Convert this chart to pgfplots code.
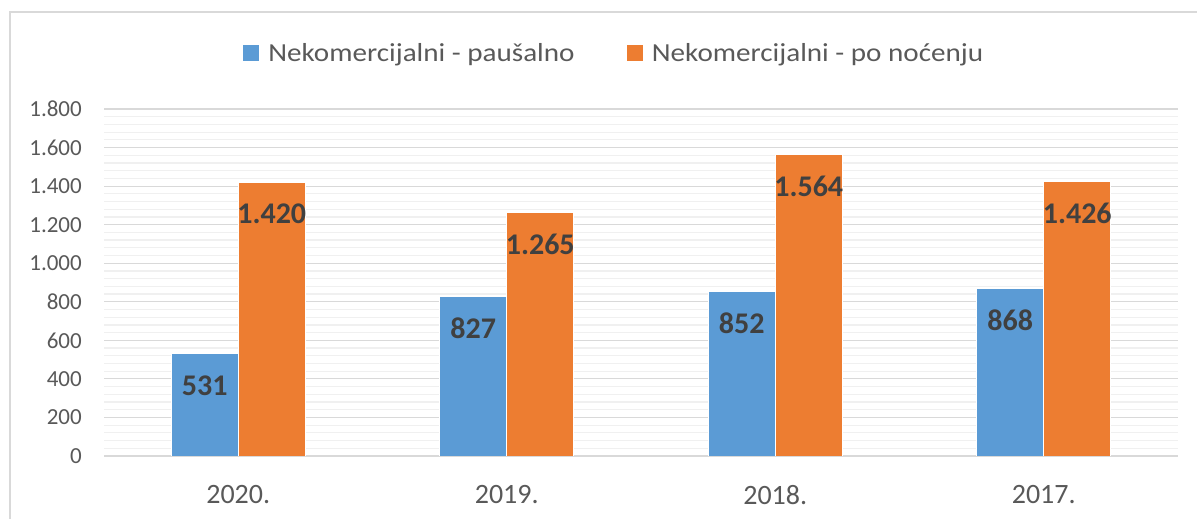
\documentclass[border=0pt]{standalone}
\usepackage{fontspec}
\setmainfont{Carlito}
\newfontfamily\legfont{Carlito}[FakeStretch=1.12]
\usepackage{pgfplots}
\pgfplotsset{compat=1.18}
\definecolor{cblue}{HTML}{5B9BD5}
\definecolor{corange}{HTML}{ED7D31}
\definecolor{gridmaj}{HTML}{D9D9D9}
\definecolor{gridmin}{HTML}{F0F0F0}
\definecolor{ticktext}{HTML}{595959}
\definecolor{labtext}{HTML}{404040}
\begin{document}
\begin{tikzpicture}[x=1pt,y=1pt]
\useasboundingbox (0,0) rectangle (1197,519);
\draw[color=gridmaj, line width=1.5pt] (10,0) -- (10,507) -- (1197,507);
\begin{axis}[
  at={(104pt,63pt)}, anchor=south west,
  scale only axis, width=1074pt, height=347pt,
  xmin=-0.5, xmax=3.5, ymin=0, ymax=1800,
  ybar=0pt, bar width=67pt,
  xtick={0,1,2,3}, xticklabels={2020.,2019.,2018.,2017.},
  ytick={0,200,...,1800},
  minor y tick num=4,
  ymajorgrids, yminorgrids,
  major grid style={draw=gridmaj, line width=1.2pt},
  minor grid style={draw=gridmin, line width=1.2pt},
  axis line style={draw=none},
  major tick length=0pt, minor tick length=0pt,
  scaled y ticks=false,
  /pgf/number format/.cd, 1000 sep={.}, assume math mode=true,
  /pgfplots/.cd,
  yticklabel style={anchor=east, inner sep=0pt, xshift=-22pt, text=ticktext, font=\fontsize{23}{23}\selectfont},
  xticklabel style={anchor=north, inner sep=0pt, yshift=-29pt, text=ticktext, font=\fontsize{28}{28}\selectfont},
  nodes near coords,
  every node near coord/.append style={anchor=center, yshift=-32pt, text=labtext, font=\bfseries\fontsize{30}{30}\selectfont},
  legend columns=2,
  legend style={draw=none, fill=none, at={(0.475,1.16)}, anchor=center,
    font=\legfont\fontsize{26}{26}\selectfont, text=ticktext,
    /tikz/every even column/.append style={column sep=50pt}},
  legend image code/.code={\fill[#1,draw=none] (0pt,-8pt) rectangle (16pt,8pt); \path (23pt,0pt);},
]
\addplot[fill=cblue, draw=white, line width=0.6pt] coordinates {(0,531) (1,827) (2,852) (3,868)};
\addplot[fill=corange, draw=white, line width=0.6pt] coordinates {(0,1420) (1,1265) (2,1564) (3,1426)};
\legend{Nekomercijalni - paušalno, Nekomercijalni - po noćenju}
\end{axis}
\end{tikzpicture}
\end{document}
